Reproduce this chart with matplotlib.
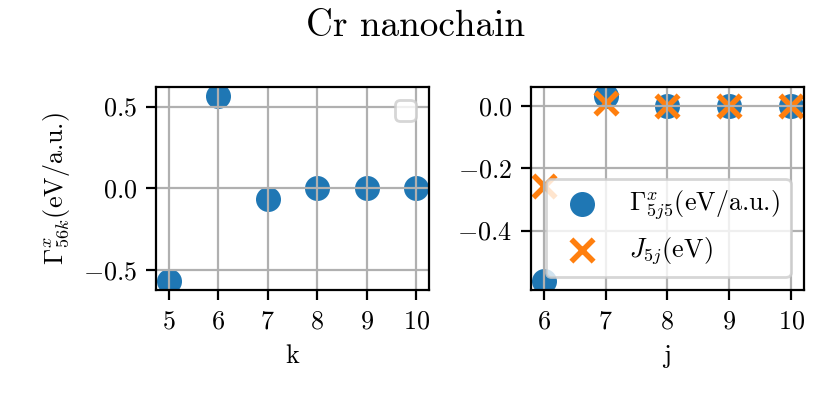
import matplotlib
matplotlib.use('Agg')
import matplotlib.pyplot as plt

plt.rcParams['font.family'] = 'serif'
plt.rcParams['font.serif'] = ['cmr10']
plt.rcParams['mathtext.fontset'] = 'cm'
plt.rcParams['axes.formatter.use_mathtext'] = True
plt.rcParams['font.size'] = 9.4
plt.rcParams['axes.unicode_minus'] = True

# left panel: Gamma^x_{56k}
k = [5, 6, 7, 8, 9, 10]
gamma_56k = [-0.562, 0.562, -0.066, 0.0, 0.0, 0.0]
left_yticks = [-0.5, 0.0, 0.5]

# right panel: Gamma^x_{5j5} and J_{5j}
j = [6, 7, 8, 9, 10]
gamma_5j5 = [-0.561, 0.032, 0.0, 0.0, 0.0]
J_5j = [-0.258, 0.01, 0.0, 0.0, 0.0]
right_yticks = [-0.4, -0.2, 0.0]

fig, (ax1, ax2) = plt.subplots(1, 2, figsize=(4.155, 1.98), dpi=200)
fig.subplots_adjust(left=0.188, right=0.967, top=0.780, bottom=0.268, wspace=0.377)

ax1.scatter(k, gamma_56k, s=64, color='#1f77b4')
ax1.set_xlabel('k')
ax1.set_ylabel(r'$\Gamma^x_{56k}$(eV/a.u.)')
ax1.set_xticks(k)
ax1.set_yticks(left_yticks)
ax1.grid(True)
ax1.legend(handles=[], loc='upper right')

ax2.scatter(j, gamma_5j5, s=64, color='#1f77b4', label=r'$\Gamma^x_{5j5}$(eV/a.u.)')
ax2.scatter(j, J_5j, s=64, marker='x', linewidths=2, color='#ff7f0e', label=r'$J_{5j}$(eV)')
ax2.set_xlabel('j')
ax2.set_xticks(j)
ax2.set_yticks(right_yticks)
ax2.grid(True)
ax2.legend(loc='lower right')

fig.suptitle('Cr nanochain', fontsize=13.4, y=0.975)

plt.savefig('out.png', dpi=200)
